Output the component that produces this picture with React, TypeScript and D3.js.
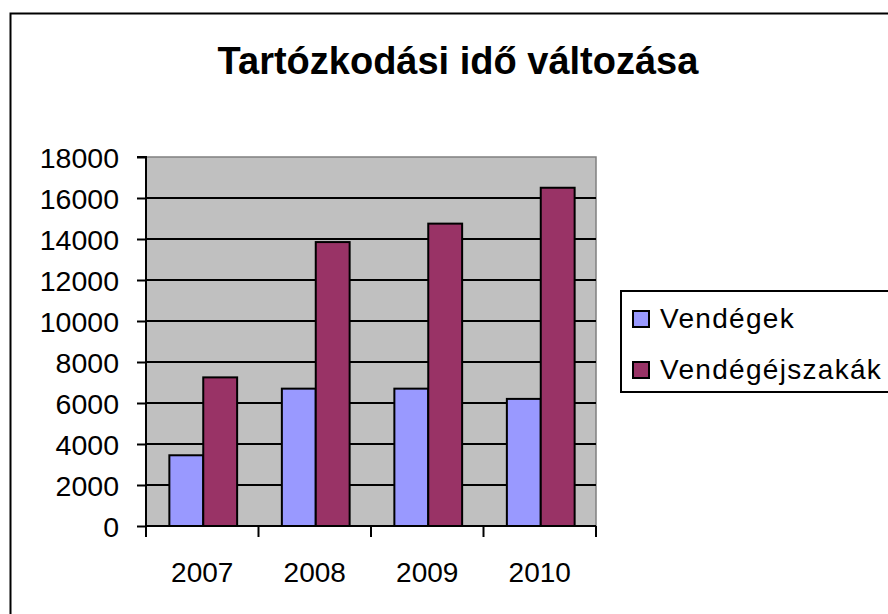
import * as d3 from 'd3';
import React, { useRef, useEffect } from 'react';

const years = ['2007', '2008', '2009', '2010'];
const seriesNames = ['Vendégek', 'Vendégéjszakák'];
const guests = [3450, 6700, 6700, 6200];
const nights = [7250, 13850, 14750, 16500];
const yTicks = [0, 2000, 4000, 6000, 8000, 10000, 12000, 14000, 16000, 18000];
const colors = ['#9999FF', '#993366'];

function App() {
  const svgRef = useRef<SVGSVGElement>(null);

  useEffect(() => {
    const svg = d3.select(svgRef.current);
    svg.selectAll('*').remove();

    const left = 146;
    const right = 596;
    const top = 157;
    const bottom = 526;
    const font = 'Arial, "Liberation Sans", sans-serif';

    // outer chart border
    svg
      .append('rect')
      .attr('x', 10.5)
      .attr('y', 13.5)
      .attr('width', 960)
      .attr('height', 700)
      .attr('fill', '#fff')
      .attr('stroke', '#000')
      .attr('stroke-width', 2);

    svg
      .append('text')
      .attr('x', 458)
      .attr('y', 74)
      .attr('text-anchor', 'middle')
      .attr('font-family', font)
      .attr('font-weight', 'bold')
      .attr('font-size', 38)
      .text('Tartózkodási idő változása');

    const xScale = d3.scaleBand().domain(years).range([left, right]);
    const inner = d3
      .scaleBand()
      .domain(seriesNames)
      .range([0, xScale.bandwidth()])
      .paddingOuter(0.66)
      .paddingInner(0);
    const yScale = d3.scaleLinear().domain([0, 18000]).range([bottom, top]);

    // plot area
    svg
      .append('rect')
      .attr('x', left)
      .attr('y', top)
      .attr('width', right - left)
      .attr('height', bottom - top)
      .attr('fill', '#C0C0C0')
      .attr('stroke', '#808080')
      .attr('stroke-width', 1.5);

    svg
      .append('g')
      .selectAll('line')
      .data(yTicks.filter((t) => t > 0 && t < 18000))
      .enter()
      .append('line')
      .attr('x1', left)
      .attr('x2', right)
      .attr('y1', (d) => yScale(d))
      .attr('y2', (d) => yScale(d))
      .attr('stroke', '#000')
      .attr('stroke-width', 2);

    const data = [guests, nights];
    const groups = svg
      .append('g')
      .selectAll('g')
      .data(data)
      .enter()
      .append('g')
      .attr('fill', (d, i) => colors[i]);

    groups
      .selectAll('rect')
      .data((d, i) => d.map((v, j) => ({ v, j, s: seriesNames[i] })))
      .enter()
      .append('rect')
      .attr('x', (d) => (xScale(years[d.j]) as number) + (inner(d.s) as number) + 1)
      .attr('y', (d) => yScale(d.v))
      .attr('width', inner.bandwidth())
      .attr('height', (d) => bottom - yScale(d.v))
      .attr('stroke', '#000')
      .attr('stroke-width', 2);

    // y axis
    const yAxis = d3
      .axisLeft(yScale)
      .tickValues(yTicks)
      .tickSize(9)
      .tickPadding(18)
      .tickFormat(d3.format('d'));
    const yg = svg.append('g').attr('transform', `translate(${left},0)`).call(yAxis);
    yg.select('.domain').attr('stroke', '#000').attr('stroke-width', 2).attr('d', `M-9,${top}H0V${bottom}`);
    yg.selectAll('.tick line').attr('stroke', '#000').attr('stroke-width', 2);
    yg.selectAll('.tick text')
      .attr('font-family', font)
      .attr('font-size', 28.5)
      .attr('fill', '#000')
      .attr('dy', '0.36em');

    // x axis
    svg
      .append('line')
      .attr('x1', left)
      .attr('x2', right)
      .attr('y1', bottom)
      .attr('y2', bottom)
      .attr('stroke', '#000')
      .attr('stroke-width', 2);
    const boundaries = years.map((y) => xScale(y) as number).concat([right]);
    svg
      .append('g')
      .selectAll('line')
      .data(boundaries)
      .enter()
      .append('line')
      .attr('x1', (d) => d)
      .attr('x2', (d) => d)
      .attr('y1', bottom)
      .attr('y2', bottom + 11)
      .attr('stroke', '#000')
      .attr('stroke-width', 2);
    svg
      .append('g')
      .selectAll('text')
      .data(years)
      .enter()
      .append('text')
      .attr('x', (d) => (xScale(d) as number) + xScale.bandwidth() / 2)
      .attr('y', 582)
      .attr('text-anchor', 'middle')
      .attr('font-family', font)
      .attr('font-size', 28)
      .text((d) => d);

    // legend
    const legend = svg.append('g');
    legend
      .append('rect')
      .attr('x', 621)
      .attr('y', 291)
      .attr('width', 400)
      .attr('height', 101)
      .attr('fill', '#fff')
      .attr('stroke', '#000')
      .attr('stroke-width', 2);
    const items = legend
      .selectAll('g')
      .data(seriesNames)
      .enter()
      .append('g')
      .attr('transform', (d, i) => `translate(0,${i * 51})`);
    items
      .append('rect')
      .attr('x', 633)
      .attr('y', 311)
      .attr('width', 16)
      .attr('height', 16)
      .attr('fill', (d, i) => colors[i])
      .attr('stroke', '#000')
      .attr('stroke-width', 2);
    items
      .append('text')
      .attr('x', 660)
      .attr('y', 328)
      .attr('font-family', font)
      .attr('font-size', 28)
      .attr('letter-spacing', 1.3)
      .text((d) => d);
  }, []);

  return (
    <svg
      ref={svgRef}
      width={888}
      height={614}
      style={{ position: 'absolute', left: 0, top: 0, background: '#fff' }}
    ></svg>
  );
}

export default App;
